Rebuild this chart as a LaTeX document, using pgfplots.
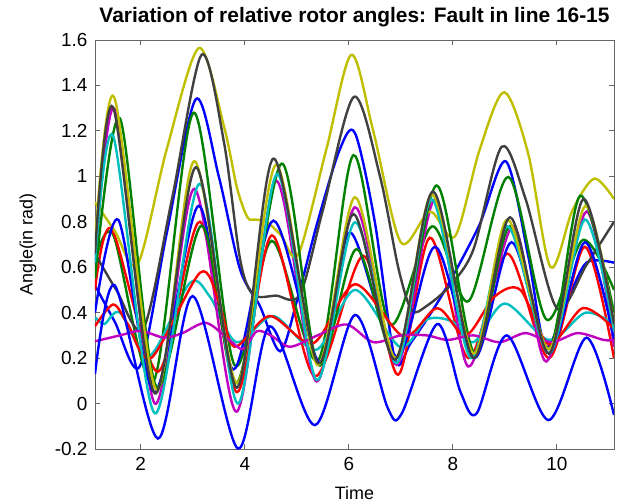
\documentclass[border=0pt]{standalone}
\usepackage{pgfplots}
\pgfplotsset{compat=1.18}
\usepackage{fontspec}
\setmainfont{Liberation Sans}
\definecolor{mblue}{rgb}{0,0,1}
\definecolor{mgreen}{rgb}{0,0.5,0}
\definecolor{mred}{rgb}{1,0,0}
\definecolor{mcyan}{rgb}{0,0.75,0.75}
\definecolor{mmag}{rgb}{0.75,0,0.75}
\definecolor{myel}{rgb}{0.75,0.75,0}
\definecolor{mgray}{rgb}{0.25,0.25,0.25}
\begin{document}
\begin{tikzpicture}
\begin{axis}[
 width=519bp, height=409bp, scale only axis,
 xmin=1.12, xmax=11.1, ymin=-0.2, ymax=1.6,
 xtick={2,4,6,8,10}, xticklabels={2,4,6,8,10},
 ytick={-0.2,0,0.2,0.4,0.6,0.8,1,1.2,1.4,1.6},
 yticklabels={-0.2,0,0.2,0.4,0.6,0.8,1,1.2,1.4,1.6},
 /pgf/number format/assume math mode=true,
 tick align=inside, major tick length=5bp,
 axis line style={black!60, line width=0.8bp},
 every tick/.style={black!60, line width=0.8bp},
 tick label style={font=\fontsize{19}{21}\selectfont, text=black},
 xticklabel style={yshift=-5bp},
 yticklabel style={xshift=-4bp},
 title={Variation of relative rotor angles: Fault in line 16-15},
 title style={font=\bfseries\fontsize{21}{25}\selectfont, at={(axis description cs:0.5,1.029)}, anchor=base},
 xlabel={Time}, ylabel={Angle(in rad)},
 label style={font=\fontsize{18}{20}\selectfont},
 xlabel style={at={(axis description cs:0.5,-0.083)}, anchor=north},
 ylabel style={at={(axis description cs:-0.129,0.5)}, anchor=center, rotate=0},
 every axis plot/.append style={line width=2.4bp, smooth, no markers},
 clip=true,
]
\coordinate (SW) at (rel axis cs:0,0);
\coordinate (NE) at (rel axis cs:1,1);
% Blue A
\addplot[mblue] coordinates {(1.12,0.52) (1.5,0.36) (1.98,0.163) (2.5,0.75) (3.06,1.34) (3.5,1.0) (3.91,0.59) (4.29,0.43) (4.68,0.23) (5.0,0.45) (5.4,0.8) (5.83,1.12) (6.12,1.19) (6.5,0.8) (6.89,0.193) (7.2,0.27) (7.8,0.48) (8.5,0.78) (9.02,1.066) (9.45,0.65) (9.78,0.25) (10.2,0.45) (10.57,0.62) (11.1,0.62)};
% Green A
\addplot[mgreen] coordinates {(1.12,0.62) (1.47,0.743) (2.25,0.1) (3.02,1.28) (3.8,0.17) (4.52,0.716) (5.41,0.19) (6.09,1.093) (6.79,0.348) (7.6,0.78) (8.3,0.45) (9.07,0.997) (9.8,0.37) (10.5,0.72) (11.1,0.5)};
% Red C
\addplot[mred] coordinates {(1.12,0.5) (1.44,0.768) (2.33,0.14) (3.14,0.80) (3.85,0.05) (4.52,0.74) (5.35,0.12) (6.28,0.65) (6.95,0.127) (7.56,0.73) (8.3,0.2) (9.05,0.66) (9.85,0.2) (10.54,0.69) (11.1,0.2)};
% Cyan D
\addplot[mcyan] coordinates {(1.12,0.38) (1.3,0.35) (1.6,0.40) (2.17,0.21) (2.94,0.53) (3.33,0.47) (3.84,0.27) (4.55,0.385) (5.38,0.237) (6.12,0.50) (6.98,0.25) (7.5,0.37) (8.0,0.36) (8.4,0.27) (9.0,0.44) (9.85,0.28) (10.55,0.4) (11.1,0.35)};
% Magenta B
\addplot[mmag] coordinates {(1.12,0.6) (1.5,1.295) (2.27,0.0) (3.03,0.945) (3.84,-0.036) (4.6,0.98) (5.38,0.097) (6.12,0.864) (6.92,0.17) (7.66,0.9) (8.3,0.163) (9.16,0.78) (9.8,0.185) (10.57,0.845) (11.1,0.25)};
% Yellow A
\addplot[myel] coordinates {(1.12,0.886) (1.5,0.76) (1.94,0.613) (2.5,1.12) (3.12,1.565) (3.6,1.22) (3.85,0.95) (4.05,0.82) (4.2,0.81) (4.42,0.80) (4.7,0.74) (5.03,0.657) (5.57,1.12) (6.05,1.535) (6.47,1.2) (7.0,0.71) (7.56,0.845) (8.04,0.735) (8.52,1.12) (8.99,1.37) (9.45,1.1) (9.88,0.6) (10.3,0.85) (10.72,0.99) (11.1,0.9)};
% Gray A
\addplot[mgray] coordinates {(1.12,0.66) (1.53,0.5) (2.05,0.33) (2.6,0.9) (3.17,1.535) (3.6,1.15) (3.91,0.635) (4.16,0.48) (4.6,0.475) (5.06,0.48) (5.5,0.85) (6.1,1.35) (6.6,1.0) (6.95,0.6) (7.21,0.41) (7.5,0.43) (7.95,0.52) (8.4,0.68) (8.94,1.13) (9.4,0.9) (10.0,0.42) (10.57,0.61) (11.1,0.8)};
% Blue C
\addplot[mblue] coordinates {(1.12,0.4) (1.57,0.808) (2.27,0.05) (3.11,0.87) (3.78,0.15) (4.55,0.805) (5.45,0.178) (6.02,0.753) (6.92,0.207) (7.66,0.69) (8.42,0.2) (9.13,0.71) (9.85,0.22) (10.54,0.71) (11.1,0.28)};
% Green B
\addplot[mgreen] coordinates {(1.12,0.55) (1.6,1.255) (2.3,0.075) (3.17,0.783) (3.85,0.09) (4.71,1.056) (5.41,0.17) (6.15,0.68) (6.92,0.2) (7.69,0.96) (8.42,0.22) (9.1,0.78) (9.85,0.24) (10.45,0.915) (11.1,0.4)};
% Red D
\addplot[mred] coordinates {(1.12,0.34) (1.47,0.436) (1.75,0.35) (2.2,0.2) (3.14,0.576) (3.5,0.45) (3.8,0.25) (4.48,0.385) (5.32,0.266) (6.12,0.525) (7.05,0.296) (7.7,0.42) (8.25,0.3) (8.8,0.47) (9.3,0.5) (9.85,0.26) (10.5,0.42) (11.1,0.33)};
% Cyan B
\addplot[mcyan] coordinates {(1.12,0.62) (1.47,1.177) (2.27,-0.043) (3.13,0.967) (3.87,0.0) (4.62,1.01) (5.38,0.104) (6.12,0.798) (6.92,0.178) (7.59,0.9) (8.35,0.2) (9.05,0.78) (9.85,0.22) (10.54,0.81) (11.1,0.32)};
% Magenta D
\addplot[mmag] coordinates {(1.12,0.274) (1.6,0.30) (2.0,0.32) (2.45,0.29) (2.8,0.31) (3.26,0.355) (3.7,0.28) (3.97,0.24) (4.23,0.318) (4.5,0.3) (4.87,0.25) (5.4,0.3) (5.96,0.348) (6.47,0.27) (7.0,0.3) (7.5,0.3) (7.9,0.28) (8.4,0.3) (8.9,0.27) (9.4,0.31) (9.9,0.27) (10.4,0.31) (10.9,0.28) (11.1,0.28)};
% Yellow B
\addplot[myel] coordinates {(1.12,0.7) (1.49,1.348) (2.3,0.06) (3.03,1.067) (3.85,0.09) (4.6,1.05) (5.4,0.17) (6.12,0.908) (6.9,0.2) (7.6,0.92) (8.4,0.22) (9.05,0.81) (9.85,0.24) (10.55,0.87) (11.1,0.35)};
% Gray B
\addplot[mgray] coordinates {(1.12,0.66) (1.47,1.303) (2.27,0.045) (3.06,1.04) (3.85,0.07) (4.55,1.078) (5.41,0.178) (6.09,0.834) (6.89,0.193) (7.62,0.933) (8.4,0.2) (9.1,0.82) (9.85,0.22) (10.51,0.9) (11.1,0.35)};
% Blue D
\addplot[mblue] coordinates {(1.12,0.13) (1.5,0.52) (2.33,-0.154) (3.0,0.473) (3.87,-0.198) (4.48,0.34) (5.35,-0.095) (6.12,0.39) (6.75,-0.02) (7.02,-0.043) (7.7,0.35) (8.15,0.05) (8.46,-0.043) (9.04,0.30) (9.84,-0.073) (10.57,0.29) (11.1,-0.05)};
\end{axis}
\pgfresetboundingbox
\path[use as bounding box] ([shift={(-95bp,-54bp)}]SW) rectangle ([shift={(11bp,40bp)}]NE);
\end{tikzpicture}
\end{document}
